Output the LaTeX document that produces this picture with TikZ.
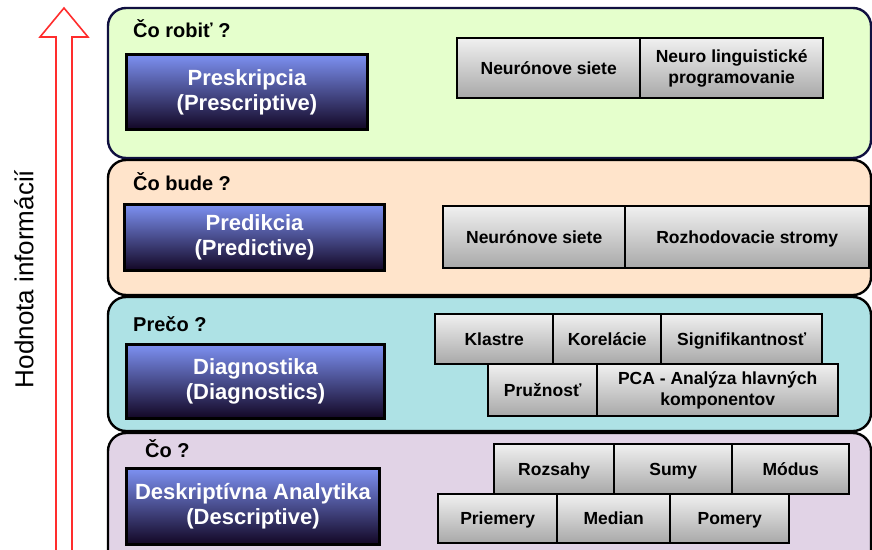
\documentclass[tikz,border=0pt]{standalone}
\usepackage{fontspec}
\setmainfont{Liberation Sans}
\begin{document}
\begin{tikzpicture}[x=1pt,y=-1pt,
  panel/.style={line width=2.4pt, rounded corners=18pt},
  heading/.style={anchor=base west, inner sep=0pt, font=\bfseries\fontsize{20}{23}\selectfont},
  levelbox/.style={anchor=north west, draw=black, line width=3pt, inner sep=2pt,
    top color={rgb,255:red,125;green,145;blue,242}, bottom color={rgb,255:red,18;green,6;blue,36},
    text=white, align=center, font=\bfseries\fontsize{22}{25}\selectfont},
  toolbox/.style={anchor=north west, draw=black, line width=2.4pt, inner sep=2pt,
    top color={rgb,255:red,240;green,240;blue,240}, bottom color={rgb,255:red,168;green,168;blue,168},
    align=center, font=\bfseries\fontsize{17.5}{21}\selectfont,
    execute at begin node={\vphantom{Ág}}}
]
\definecolor{pgreen}{RGB}{229,255,204}
\definecolor{ppeach}{RGB}{255,228,203}
\definecolor{pcyan}{RGB}{174,226,229}
\definecolor{plilac}{RGB}{225,211,230}
\definecolor{navy}{RGB}{16,16,64}
\definecolor{arrowred}{RGB}{255,45,45}

\useasboundingbox (0,0) rectangle (872,549);
\clip (0,0) rectangle (872,549);

% rising value arrow (hollow)
\draw[arrowred, line width=1.6pt, fill=white, line join=miter]
  (56,560) -- (56,37) -- (40,37) -- (64,8) -- (88,37) -- (72,37) -- (72,560);
\node[rotate=90, font=\fontsize{26}{30}\selectfont, inner sep=0pt] (axis) at (24,279) {Hodnota informácií};

% level panels
\draw[panel, draw=navy, fill=pgreen] (108,8) rectangle (871,158);
\draw[panel, draw=black, fill=ppeach] (108,160) rectangle (871,295);
\draw[panel, draw=black, fill=pcyan] (108,297) rectangle (871,431);
\draw[panel, draw=black, fill=plilac] (108,433) rectangle (871,580);

% questions
\node[heading] (q1) at (133,37) {Čo robiť ?};
\node[heading] (q2) at (133,190) {Čo bude ?};
\node[heading] (q3) at (133,331) {Prečo ?};
\node[heading] (q4) at (145,457) {Čo ?};

% analytics levels
\node[levelbox, minimum width=241pt, minimum height=75pt] (presc) at (125,53) {Preskripcia\\(Prescriptive)};
\node[levelbox, minimum width=260pt, minimum height=66pt] (pred) at (123,203) {Predikcia\\(Predictive)};
\node[levelbox, minimum width=258pt, minimum height=74pt] (diag) at (125,343) {Diagnostika\\(Diagnostics)};
\node[levelbox, minimum width=253pt, minimum height=76pt] (desc) at (125,467) {Deskriptívna Analytika\\(Descriptive)};

% methods: prescriptive
\node[toolbox, minimum width=183pt, minimum height=60pt] (nn1) at (456,37) {Neurónove siete};
\node[toolbox, minimum width=183pt, minimum height=60pt] (nlp) at (639,37) {Neuro linguistické\\programovanie};

% methods: predictive
\node[toolbox, minimum width=182pt, minimum height=62pt] (nn2) at (442,205) {Neurónove siete};
\node[toolbox, minimum width=244pt, minimum height=62pt] (tree) at (624,205) {Rozhodovacie stromy};

% methods: diagnostic
\node[toolbox, minimum width=118pt, minimum height=50pt] (klas) at (434,313) {Klastre};
\node[toolbox, minimum width=108pt, minimum height=50pt] (kor) at (552,313) {Korelácie};
\node[toolbox, minimum width=161pt, minimum height=50pt] (sig) at (660,313) {Signifikantnosť};
\node[toolbox, minimum width=109pt, minimum height=52pt] (pruz) at (487,363) {Pružnosť};
\node[toolbox, minimum width=241pt, minimum height=52pt] (pca) at (596,363) {PCA - Analýza hlavných\\komponentov};

% methods: descriptive
\node[toolbox, minimum width=120pt, minimum height=50pt] (roz) at (493,443) {Rozsahy};
\node[toolbox, minimum width=118pt, minimum height=50pt] (sumy) at (613,443) {Sumy};
\node[toolbox, minimum width=117pt, minimum height=50pt] (mod) at (731,443) {Módus};
\node[toolbox, minimum width=119pt, minimum height=49pt] (prie) at (437,493) {Priemery};
\node[toolbox, minimum width=113pt, minimum height=49pt] (med) at (556,493) {Median};
\node[toolbox, minimum width=119pt, minimum height=49pt] (pom) at (669,493) {Pomery};
\end{tikzpicture}
\end{document}
